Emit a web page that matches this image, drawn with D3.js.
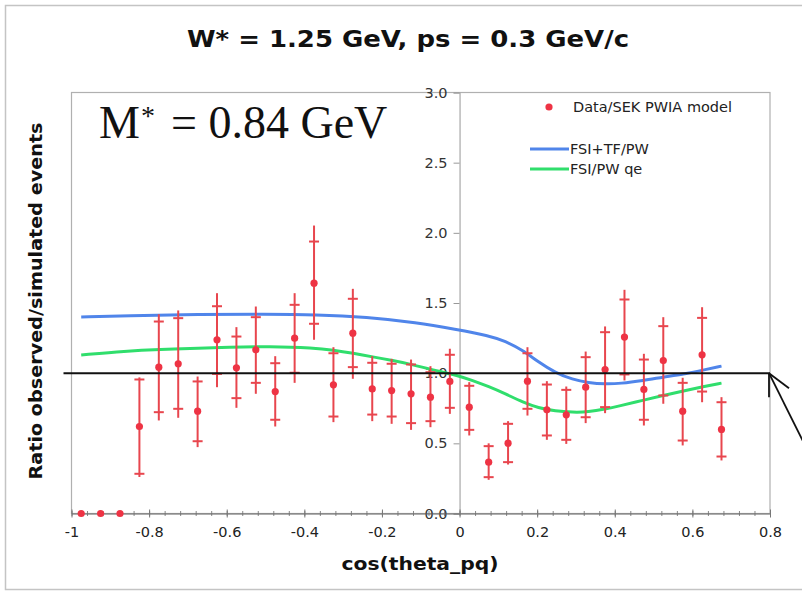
<!DOCTYPE html>
<html>
<head>
<meta charset="utf-8">
<script src="https://cdn.jsdelivr.net/npm/d3@7"></script>
<style>
  html, body { margin: 0; padding: 0; background: #fff; }
  svg { display: block; }
</style>
</head>
<body>
<svg id="chart" width="802" height="592"></svg>
<script>
// Bin centres in cos(theta_pq)
const cosTheta = [-0.975, -0.925, -0.875, -0.825, -0.775, -0.725, -0.675, -0.625, -0.575, -0.525,
  -0.475, -0.425, -0.375, -0.325, -0.275, -0.225, -0.175, -0.125, -0.075, -0.025,
  0.025, 0.075, 0.125, 0.175, 0.225, 0.275, 0.325, 0.375, 0.425, 0.475,
  0.525, 0.575, 0.625, 0.675];
// Observed / simulated ratio (Data/SEK PWIA model)
const ratio = [0, 0, 0, 0.62, 1.043, 1.067, 0.729, 1.238, 1.038, 1.166,
  0.869, 1.249, 1.641, 0.917, 1.285, 0.888, 0.876, 0.853, 0.829, 0.941,
  0.758, 0.366, 0.501, 0.943, 0.739, 0.703, 0.90, 1.026, 1.257, 0.884,
  1.09, 0.729, 1.131, 0.599];
// Statistical error band (capped bars)
const statLow = [null, null, null, 0.283, 0.722, 0.746, 0.515, 0.995, 0.822, 0.931,
  0.668, 1.003, 1.352, 0.691, 1.043, 0.705, 0.691, 0.644, 0.658, 0.753,
  0.596, 0.259, 0.366, 0.746, 0.556, 0.525, 0.686, 0.758, 0.991, 0.668,
  0.841, 0.52, 0.869, 0.406];
const statHigh = [null, null, null, 0.955, 1.368, 1.392, 0.941, 1.477, 1.261, 1.399,
  1.071, 1.487, 1.938, 1.142, 1.53, 1.074, 1.067, 1.062, 1.007, 1.131,
  0.91, 0.48, 0.639, 1.142, 0.919, 0.881, 1.114, 1.292, 1.525, 1.097,
  1.335, 0.931, 1.394, 0.793];
// Total error band (uncapped bars)
const totLow = [null, null, null, 0.26, 0.663, 0.682, 0.473, 0.90, 0.753, 0.853,
  0.62, 0.931, 1.238, 0.651, 0.96, 0.658, 0.639, 0.596, 0.615, 0.71,
  0.556, 0.24, 0.349, 0.698, 0.525, 0.496, 0.644, 0.715, 0.948, 0.627,
  0.782, 0.485, 0.793, 0.378];
const totHigh = [null, null, null, 0.97, 1.42, 1.447, 0.976, 1.57, 1.328, 1.475,
  1.121, 1.57, 2.052, 1.185, 1.601, 1.121, 1.102, 1.097, 1.05, 1.174,
  0.936, 0.50, 0.658, 1.185, 0.943, 0.905, 1.154, 1.333, 1.594, 1.138,
  1.399, 0.967, 1.47, 0.829];

// Model curves
const fsiTfCos = [-0.975, -0.86, -0.67, -0.5, -0.37, -0.24, -0.11, -0.01, 0.075, 0.118, 0.162,
  0.203, 0.247, 0.291, 0.332, 0.376, 0.414, 0.474, 0.525, 0.577, 0.628, 0.675];
const fsiTfRatio = [1.400, 1.408, 1.420, 1.420, 1.417, 1.400, 1.360, 1.312, 1.268, 1.228, 1.165,
  1.080, 1.003, 0.955, 0.932, 0.922, 0.926, 0.948, 0.972, 0.993, 1.022, 1.050];
const fsiQeCos = [-0.975, -0.86, -0.775, -0.667, -0.6, -0.49, -0.375, -0.326, -0.274, -0.224,
  -0.172, -0.123, -0.074, -0.005, 0.033, 0.075, 0.118, 0.162, 0.203, 0.247, 0.291, 0.332,
  0.376, 0.41, 0.474, 0.525, 0.577, 0.628, 0.675];
const fsiQeRatio = [1.13, 1.157, 1.169, 1.178, 1.185, 1.190, 1.180, 1.165, 1.142, 1.116,
  1.09, 1.062, 1.026, 0.985, 0.948, 0.905, 0.853, 0.795, 0.752, 0.730, 0.721, 0.723,
  0.744, 0.765, 0.808, 0.841, 0.874, 0.904, 0.929];

// Axis ticks and labels
const xTicks = [-1, -0.8, -0.6, -0.4, -0.2, 0, 0.2, 0.4, 0.6, 0.8];
const xTickLabels = ["-1", "-0.8", "-0.6", "-0.4", "-0.2", "0", "0.2", "0.4", "0.6", "0.8"];
const xMinorStep = 0.04;
const yTicks = [0, 0.5, 1, 1.5, 2, 2.5, 3];
const yTickLabels = ["0.0", "0.5", "1.0", "1.5", "2.0", "2.5", "3.0"];

const titleText = "W* = 1.25 GeV, ps = 0.3 GeV/c";
const xTitle = "cos(theta_pq)";
const yTitle = "Ratio observed/simulated events";
const legendLabels = ["Data/SEK PWIA model", "FSI+TF/PW", "FSI/PW qe"];
const unityLevel = 1.0;

const RED = "#ee3344", RED_BAR = "#e8464e", BLUE = "#5085ea", GREEN = "#30de6c";
const SANS = "'DejaVu Sans', Verdana, sans-serif";

const svg = d3.select("#chart");
const x = d3.scaleLinear().domain([-1, 0.8]).range([71.5, 770]);
const y = d3.scaleLinear().domain([0, 3]).range([513.5, 92.5]);

// Outer frame
svg.append("rect").attr("x", 5.5).attr("y", 5.5).attr("width", 805).attr("height", 584)
  .attr("fill", "none").attr("stroke", "#c4c4c4").attr("stroke-width", 1.5);

// Title
svg.append("text").attr("x", 408).attr("y", 47).attr("text-anchor", "middle")
  .attr("font-family", SANS).attr("font-weight", "bold").attr("font-size", 23)
  .attr("textLength", 442).attr("lengthAdjust", "spacingAndGlyphs")
  .attr("fill", "#111").text(titleText);

// Plot frame
svg.append("rect").attr("x", x(-1)).attr("y", y(3)).attr("width", x(0.8) - x(-1))
  .attr("height", y(0) - y(3)).attr("fill", "none").attr("stroke", "#b0b0b0").attr("stroke-width", 1.2);

// Y axis at cos = 0
const yAxis = svg.append("g").attr("transform", `translate(${x(0)},0)`)
  .call(d3.axisLeft(y).tickValues(yTicks).tickFormat((d, i) => yTickLabels[i]).tickSize(6).tickPadding(6));
yAxis.select(".domain").attr("stroke", "#a8a8a8").attr("stroke-width", 1.2);
yAxis.selectAll(".tick line").attr("stroke", "#999");
yAxis.selectAll(".tick text").attr("font-family", SANS).attr("font-size", 14.5).attr("fill", "#333");

// X axis: minor ticks then major ticks
const minorVals = d3.range(0, 46).map(i => -1 + i * xMinorStep).filter(v => v <= 0.8001);
const xMinor = svg.append("g").attr("transform", `translate(0,${y(0)})`)
  .call(d3.axisBottom(x).tickValues(minorVals).tickFormat(""));
xMinor.select(".domain").remove();
xMinor.selectAll(".tick line").attr("y1", -2.5).attr("y2", 2.5).attr("stroke", "#888");

const xAxis = svg.append("g").attr("transform", `translate(0,${y(0)})`)
  .call(d3.axisBottom(x).tickValues(xTicks).tickFormat((d, i) => xTickLabels[i]).tickSizeOuter(0));
xAxis.select(".domain").attr("stroke", "#666").attr("stroke-width", 1.2);
xAxis.selectAll(".tick line").attr("y1", -4).attr("y2", 4).attr("stroke", "#777");
xAxis.selectAll(".tick text").attr("y", 23.5).attr("dy", 0)
  .attr("font-family", SANS).attr("font-size", 14.5).attr("fill", "#222");

// Axis titles
svg.append("text").attr("x", 420).attr("y", 570).attr("text-anchor", "middle")
  .attr("font-family", SANS).attr("font-weight", "bold").attr("font-size", 18)
  .attr("textLength", 157).attr("lengthAdjust", "spacingAndGlyphs")
  .attr("fill", "#111").text(xTitle);
svg.append("text").attr("transform", "translate(42,301) rotate(-90)").attr("text-anchor", "middle")
  .attr("font-family", SANS).attr("font-weight", "bold").attr("font-size", 17)
  .attr("textLength", 357).attr("lengthAdjust", "spacingAndGlyphs")
  .attr("fill", "#111").text(yTitle);

// Model curves (smoothed)
const line = d3.line().curve(d3.curveBasis).x(d => x(d[0])).y(d => y(d[1]));
svg.append("path").datum(fsiTfCos.map((c, i) => [c, fsiTfRatio[i]]))
  .attr("d", line).attr("fill", "none").attr("stroke", BLUE).attr("stroke-width", 3);
svg.append("path").datum(fsiQeCos.map((c, i) => [c, fsiQeRatio[i]]))
  .attr("d", line).attr("fill", "none").attr("stroke", GREEN).attr("stroke-width", 3);

// Data points with error bars
const pts = cosTheta.map((c, i) => ({ c, r: ratio[i], sl: statLow[i], sh: statHigh[i], tl: totLow[i], th: totHigh[i] }));
const withErr = pts.filter(p => p.tl !== null);
const bars = svg.append("g").attr("stroke", RED_BAR).attr("stroke-width", 2);
bars.selectAll("line.tot").data(withErr).join("line").attr("class", "tot")
  .attr("x1", p => x(p.c)).attr("x2", p => x(p.c)).attr("y1", p => y(p.tl)).attr("y2", p => y(p.th));
bars.selectAll("line.capLo").data(withErr).join("line").attr("class", "capLo")
  .attr("x1", p => x(p.c) - 5).attr("x2", p => x(p.c) + 5).attr("y1", p => y(p.sl)).attr("y2", p => y(p.sl));
bars.selectAll("line.capHi").data(withErr).join("line").attr("class", "capHi")
  .attr("x1", p => x(p.c) - 5).attr("x2", p => x(p.c) + 5).attr("y1", p => y(p.sh)).attr("y2", p => y(p.sh));
svg.append("g").selectAll("circle").data(pts).join("circle")
  .attr("cx", p => x(p.c)).attr("cy", p => y(p.r)).attr("r", 3.6).attr("fill", RED);

// Legend
const leg = svg.append("g").attr("font-family", SANS).attr("font-size", 14.5).attr("fill", "#222");
leg.append("circle").attr("cx", 549).attr("cy", 107).attr("r", 3.6).attr("fill", RED);
leg.append("text").attr("x", 573).attr("y", 112).text(legendLabels[0]);
leg.append("line").attr("x1", 530).attr("x2", 569).attr("y1", 149).attr("y2", 149)
  .attr("stroke", BLUE).attr("stroke-width", 3);
leg.append("text").attr("x", 570).attr("y", 154).text(legendLabels[1]);
leg.append("line").attr("x1", 530).attr("x2", 569).attr("y1", 169).attr("y2", 169)
  .attr("stroke", GREEN).attr("stroke-width", 3);
leg.append("text").attr("x", 570).attr("y", 174).text(legendLabels[2]);

// Invariant-mass annotation
const mText = svg.append("text").attr("x", 99).attr("y", 138)
  .attr("font-family", "'Liberation Serif', 'Times New Roman', serif").attr("font-size", 46).attr("fill", "#111");
mText.append("tspan").text("M");
mText.append("tspan").attr("x", 141).attr("y", 125).attr("font-size", 28).text("*");
mText.append("tspan").attr("x", 171).attr("y", 138).text("= 0.84 GeV");

// Unity reference line with arrow pointing at its end
const ax = x(0.8), ay = y(unityLevel);
svg.append("line").attr("x1", x(-1) - 8).attr("x2", ax).attr("y1", ay).attr("y2", ay)
  .attr("stroke", "#111").attr("stroke-width", 2);
const arrow = svg.append("g").attr("stroke", "#111").attr("stroke-width", 1.8).attr("fill", "none");
arrow.append("line").attr("x1", ax - 1).attr("y1", ay).attr("x2", ax + 44).attr("y2", ay + 90);
arrow.append("line").attr("x1", ax - 1).attr("y1", ay).attr("x2", ax - 1).attr("y2", ay + 24);
arrow.append("line").attr("x1", ax - 1).attr("y1", ay).attr("x2", ax + 19).attr("y2", ay + 15);
</script>
</body>
</html>
